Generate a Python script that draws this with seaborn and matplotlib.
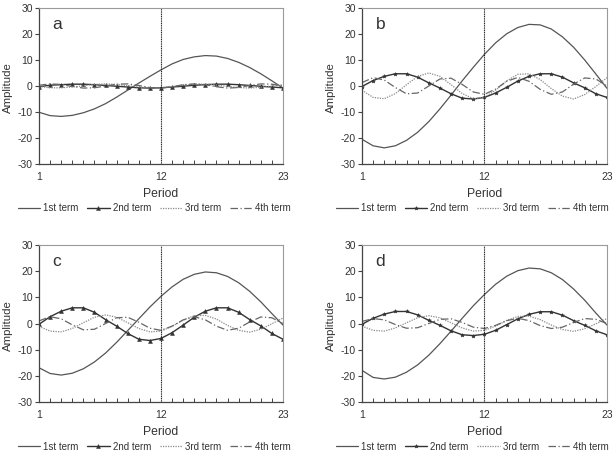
import matplotlib
matplotlib.use('Agg')
import matplotlib.pyplot as plt
import seaborn as sns
from matplotlib.ticker import MultipleLocator, FixedLocator

periods = list(range(1, 24))
panel_letters = ['a', 'b', 'c', 'd']
term_names = ['1st term', '2nd term', '3rd term', '4th term']

# 1st term
a_first = [-10.1, -11.4, -11.7, -11.3, -10.3, -8.8, -6.8, -4.3, -1.6, 1.1, 3.7, 6.2, 8.5, 10.2, 11.2, 11.7, 11.5, 10.6, 9.1, 7.1, 4.7, 2.0, -0.8]
b_first = [-20.5, -23.0, -23.8, -23.0, -20.9, -17.8, -13.7, -8.8, -3.5, 2.0, 7.2, 12.2, 16.6, 20.1, 22.5, 23.7, 23.5, 21.9, 18.9, 14.9, 10.0, 4.6, -0.9]
c_first = [-16.9, -19.1, -19.7, -19.0, -17.3, -14.7, -11.3, -7.2, -2.7, 1.8, 6.3, 10.4, 14.0, 16.9, 18.8, 19.7, 19.4, 18.0, 15.6, 12.3, 8.3, 3.8, -0.6]
d_first = [-17.9, -20.6, -21.2, -20.5, -18.6, -15.8, -12.1, -7.7, -2.9, 2.0, 6.8, 11.1, 15.0, 18.1, 20.2, 21.2, 20.9, 19.4, 16.8, 13.2, 8.9, 4.0, -0.6]

# 2nd term
a_second = [-0.3, 0.3, 0.5, 0.7, 0.7, 0.5, 0.2, -0.1, -0.4, -0.7, -0.8, -0.7, -0.4, -0.1, 0.3, 0.5, 0.7, 0.7, 0.5, 0.2, -0.1, -0.4, -0.7]
b_second = [-0.2, 2.1, 3.7, 4.7, 4.7, 3.4, 1.2, -0.8, -3.0, -4.7, -5.0, -4.4, -2.7, -0.5, 1.9, 3.7, 4.7, 4.7, 3.4, 1.2, -0.7, -3.0, -4.4]
c_second = [-0.3, 2.6, 4.7, 6.0, 6.0, 4.3, 1.5, -1.0, -3.8, -6.0, -6.5, -5.7, -3.5, -0.6, 2.4, 4.7, 6.0, 6.0, 4.3, 1.5, -0.9, -3.8, -6.0]
d_second = [-0.3, 2.0, 3.6, 4.6, 4.6, 3.3, 1.2, -0.7, -2.8, -4.3, -4.6, -4.1, -2.6, -0.4, 1.8, 3.5, 4.5, 4.5, 3.2, 1.1, -0.7, -2.8, -4.3]

# 3rd term
a_third = [-0.2, -0.7, -0.7, -0.4, 0.1, 0.6, 0.8, 0.6, 0.1, -0.4, -0.7, -0.7, -0.2, 0.3, 0.7, 0.7, 0.4, -0.2, -0.6, -0.8, -0.5, 0.0, 0.5]
b_third = [-1.6, -4.4, -4.9, -2.9, 0.5, 3.7, 5.0, 3.7, 0.5, -2.9, -4.9, -4.4, -1.6, 2.0, 4.5, 4.7, 2.5, -1.0, -3.9, -5.0, -3.3, -0.2, 3.2]
c_third = [-1.1, -2.9, -3.2, -1.9, 0.3, 2.4, 3.3, 2.4, 0.3, -1.9, -3.2, -2.9, -1.1, 1.3, 3.0, 3.1, 1.7, -0.7, -2.6, -3.3, -2.2, -0.1, 2.1]
d_third = [-1.0, -2.6, -2.9, -1.7, 0.3, 2.2, 3.0, 2.2, 0.3, -1.7, -2.9, -2.6, -1.0, 1.2, 2.7, 2.8, 1.5, -0.6, -2.3, -3.0, -2.0, -0.1, 1.9]

# 4th term
a_fourth = [0.3, 0.8, 0.6, -0.2, -0.8, -0.7, 0.0, 0.7, 0.8, 0.2, -0.6, -0.8, -0.3, 0.5, 0.8, 0.5, -0.3, -0.8, -0.6, 0.2, 0.8, 0.7, 0.0]
b_fourth = [1.3, 3.2, 2.3, -0.6, -3.0, -2.7, 0.0, 2.7, 3.0, 0.6, -2.3, -3.2, -1.2, 1.8, 3.3, 1.8, -1.3, -3.2, -2.3, 0.7, 3.1, 2.7, 0.0]
c_fourth = [1.0, 2.6, 1.8, -0.5, -2.4, -2.2, 0.0, 2.2, 2.4, 0.5, -1.8, -2.6, -1.0, 1.4, 2.6, 1.4, -1.0, -2.6, -1.8, 0.6, 2.5, 2.2, 0.0]
d_fourth = [0.8, 1.9, 1.4, -0.4, -1.8, -1.6, 0.0, 1.6, 1.8, 0.4, -1.4, -1.9, -0.7, 1.1, 2.0, 1.1, -0.8, -1.9, -1.4, 0.4, 1.9, 1.6, 0.0]

panels = {
    'a': [a_first, a_second, a_third, a_fourth],
    'b': [b_first, b_second, b_third, b_fourth],
    'c': [c_first, c_second, c_third, c_fourth],
    'd': [d_first, d_second, d_third, d_fourth],
}

sns.set_theme(style='white')
plt.rcParams['font.family'] = ['Liberation Sans', 'DejaVu Sans']
plt.rcParams['axes.unicode_minus'] = False

fig = plt.figure(figsize=(6.13, 4.54), dpi=100)

# axes positions in figure fractions
positions = {
    'a': [0.0636, 0.6388, 0.398, 0.3436],
    'b': [0.5905, 0.6388, 0.3997, 0.3436],
    'c': [0.0636, 0.1145, 0.398, 0.3458],
    'd': [0.5905, 0.1145, 0.3997, 0.3458],
}
# legend centre (axes fraction); right-hand legends nudged so they stay inside the figure
legend_x = {'a': 0.473, 'b': 0.45, 'c': 0.473, 'd': 0.45}

colors = ['#555555', '#333333', '#8a8a8a', '#666666']
styles = ['-', '-', (0, (1, 1)), (0, (6, 2, 1, 2))]
widths = [0.9, 1.0, 0.9, 0.9]
text_col = '#333333'

for letter in panel_letters:
    ax = fig.add_axes(positions[letter])
    marker = '^' if letter in ('a', 'c') else '*'
    for i, (name, vals) in enumerate(zip(term_names, panels[letter])):
        if i == 1:
            sns.lineplot(x=periods, y=vals, ax=ax, color=colors[i], linewidth=widths[i],
                         linestyle=styles[i], marker=marker, markersize=2.8,
                         markeredgewidth=0.4, markeredgecolor=colors[i], label=name)
        else:
            sns.lineplot(x=periods, y=vals, ax=ax, color=colors[i], linewidth=widths[i],
                         linestyle=styles[i], label=name)

    ax.axvline(12, color='#222222', linewidth=0.8, linestyle=(0, (1, 0.6)))

    ax.set_xlim(1, 23)
    ax.set_ylim(-30, 30)
    ax.xaxis.set_major_locator(FixedLocator([1, 12, 23]))
    ax.xaxis.set_minor_locator(MultipleLocator(1))
    ax.yaxis.set_major_locator(MultipleLocator(10))
    ax.tick_params(axis='x', which='major', direction='inout', length=5, width=0.8,
                   pad=3.5, labelsize=7.5, colors='#444444', labelcolor=text_col)
    ax.tick_params(axis='x', which='minor', direction='in', length=3, width=0.7,
                   colors='#444444', bottom=True)
    ax.tick_params(axis='y', which='major', direction='out', length=3, width=0.8,
                   pad=1.5, labelsize=7.5, colors='#444444', labelcolor=text_col, left=True)

    for side in ['left', 'bottom']:
        ax.spines[side].set_color('#444444')
        ax.spines[side].set_linewidth(0.9)
    for side in ['top', 'right']:
        ax.spines[side].set_color('#9a9a9a')
        ax.spines[side].set_linewidth(0.8)

    ax.set_xlabel('Period', fontsize=8.7, color=text_col)
    ax.xaxis.set_label_coords(0.5, -0.155)
    ax.set_ylabel('Amplitude', fontsize=8.2, color=text_col)
    ax.yaxis.set_label_coords(-0.108, 0.49)

    ax.text(0.055, 0.865, letter, transform=ax.transAxes, fontsize=12.5,
            color=text_col, ha='left', va='baseline')

    ax.legend(loc='center', bbox_to_anchor=(legend_x[letter], -0.285), ncol=4, frameon=False,
              fontsize=7, handlelength=2.3, handletextpad=0.3, columnspacing=0.9,
              labelcolor=text_col, borderaxespad=0, borderpad=0.2)

fig.savefig('out.png', dpi=100)
